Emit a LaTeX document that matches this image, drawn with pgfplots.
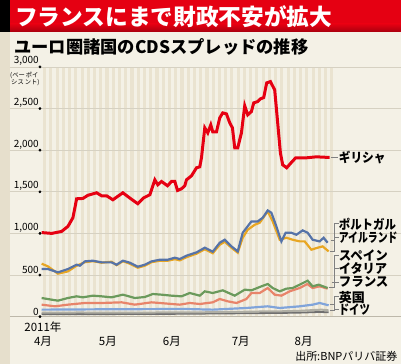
\documentclass[border=0pt]{standalone}
\usepackage{pgfplots}
\pgfplotsset{compat=1.18}
\usepackage{fontspec}
\usepackage{graphicx}
\setmainfont{Noto Sans CJK JP}
\newfontfamily\heavy{Noto Sans CJK JP Black}
\definecolor{bg}{HTML}{F4F1E6}
\definecolor{leftstrip}{HTML}{E6DFCC}
\definecolor{stripe}{HTML}{EAE3D0}
\definecolor{bannerred}{HTML}{E50012}
\definecolor{bannerdark}{HTML}{A8000E}
\definecolor{gridc}{HTML}{D6D1C2}
\definecolor{zeroc}{HTML}{BDB8AA}
\definecolor{greece}{HTML}{E60012}
\definecolor{portugal}{HTML}{5673A8}
\definecolor{ireland}{HTML}{E8A623}
\definecolor{spain}{HTML}{6B9A5C}
\definecolor{italy}{HTML}{E8846A}
\definecolor{france}{HTML}{80A4DA}
\definecolor{uk}{HTML}{AFAEA4}
\definecolor{germany}{HTML}{707070}
\definecolor{leader}{HTML}{808080}
\newcommand\rl[2]{\scalebox{#1}[1]{#2}}
\begin{document}
\begin{tikzpicture}
\begin{axis}[
  set layers,
  at={(40pt,47pt)}, anchor=south west,
  width=293pt, height=250pt, scale only axis,
  xmin=40, xmax=333, ymin=0, ymax=3000,
  clip=false,
  axis line style={draw=none},
  major tick length=0pt,
  ytick={0,500,1000,1500,2000,2500,3000},
  yticklabel style={anchor=south east, font=\fontsize{10}{10}\selectfont, inner sep=1pt},
  /pgf/number format/.cd, 1000 sep={,}, assume math mode=true,
  /pgfplots/.cd,
  xtick={43,108,172,241,304},
  xticklabels={{2011年\\4月},{\phantom{年}\\5月},{\phantom{年}\\6月},{\phantom{年}\\7月},{\phantom{年}\\8月}},
  xticklabel style={align=center, anchor=north, font=\fontsize{11.5}{13.5}\selectfont, inner sep=0pt, yshift=-5pt},
]
\begin{pgfonlayer}{axis background}
\fill[bg] (axis cs:0,-564) rectangle (axis cs:401,3804);
\fill[leftstrip] (axis cs:0,-564) rectangle (axis cs:10,3420);
\fill[bannerred] (axis cs:10,3420) rectangle (axis cs:401,3804);
\shade[top color=bannerred, bottom color=bannerdark] (axis cs:10,3420) rectangle (axis cs:401,3516);
\fill[black] (axis cs:0,3420) rectangle (axis cs:10,3804);
\pgfplotsinvokeforeach{0,...,46}{
  \fill[stripe] (axis cs:{40+#1*6.25+3.1},0) rectangle (axis cs:{40+#1*6.25+6.25},3000);
}
\pgfplotsinvokeforeach{500,1000,1500,2000,2500,3000}{
  \draw[gridc, line width=0.8pt] (axis cs:10,#1) -- (axis cs:401,#1);
}
\draw[zeroc, line width=0.9pt] (axis cs:10,0) -- (axis cs:401,0);
\end{pgfonlayer}
% titles
\node[anchor=west, text=white, font=\fontsize{22.7}{24}\selectfont\heavy, inner sep=0] at (axis cs:15,3606) {フランスにまで財政不安が拡大};
\node[anchor=west, font=\fontsize{17.3}{18}\selectfont\bfseries, inner sep=0] at (axis cs:14,3246) {ユーロ圏諸国のCDSスプレッドの推移};
% unit
\node[anchor=north west, font=\fontsize{6.3}{6.8}\selectfont, align=left, inner sep=0] at (axis cs:10,2940) {(ベー\,ポイ\\\,シス\,ント)};
% Germany
\addplot[germany, line width=1.8pt] coordinates {(41.7,30) (100,30) (160,32) (200,36) (240,40) (280,44) (300,48) (320,56) (329,52)};
% UK
\addplot[uk, line width=2pt] coordinates {(41.7,48) (80,50) (120,48) (160,50) (200,52) (240,58) (260,62) (280,64) (300,70) (315,80) (322,84) (329,76)};
% France
\addplot[france, line width=2.2pt] coordinates {(41.7,84) (100,88) (185,92) (213,84) (246.7,104) (268,124) (280,104) (300,124) (313,144) (320,164) (329,136)};
% Italy
\addplot[italy, line width=2.2pt] coordinates {(41.7,144) (55,124) (68,144) (85,164) (101.7,164) (121.7,172) (135,144) (151.7,172) (168,156) (180,144) (190,164) (200,152) (213,172) (220,212) (228,184) (236.7,164) (246.7,212) (251.7,284) (260,284) (268,344) (275,264) (281.7,252) (290,304) (300,344) (307.7,392) (313,344) (320,364) (328,336)};
% Spain
\addplot[spain, line width=2.2pt] coordinates {(41.7,224) (51.7,204) (58,192) (68,224) (76.7,244) (83,232) (93,252) (101.7,244) (111.7,232) (123,264) (135,224) (145,236) (153,272) (161.7,264) (171.7,252) (181.7,244) (190,284) (200,252) (205,304) (213,284) (223,316) (235,252) (245,324) (251.7,316) (261.7,364) (268,392) (273,344) (280,304) (286.7,336) (293,344) (300,384) (308,432) (313,364) (319,384) (328,344)};
% Ireland
\addplot[ireland, line width=2.2pt] coordinates {(41.7,636) (48,604) (58,516) (68,544) (76.7,612) (85,654) (93,666) (101.7,648) (111.7,660) (116.7,618) (123,666) (130,636) (138,588) (145,612) (151.7,654) (160,672) (168,672) (175,690) (180,676) (186.7,714) (196.7,756) (205,810) (213,762) (220,864) (225,900) (231.7,828) (238,768) (243,948) (248,1044) (255,1104) (260,1128) (268,1264) (273,1144) (280,924) (286.7,948) (293,924) (300,904) (305,904) (311.7,804) (318,828) (323,844) (329,784)};
% Portugal
\addplot[portugal, line width=2.2pt] coordinates {(41.7,572) (48,572) (58,532) (68,572) (76.7,624) (80,612) (85,664) (93,672) (101.7,652) (111.7,652) (116.7,624) (123,672) (130,648) (138,600) (145,624) (151.7,664) (160,684) (168,684) (175,708) (180,692) (186.7,732) (196.7,772) (205,828) (213,780) (220,888) (225,924) (231.7,844) (238,784) (243,1008) (251.7,1144) (258,1144) (263,1188) (268,1276) (271.7,1248) (276.7,1084) (281.7,904) (286,1008) (291.7,1008) (296.7,984) (303,1036) (308,1008) (313,924) (320,904) (324,948) (328,888)};
% Greece
\addplot[greece, line width=3pt] coordinates {(41.7,1010) (51.7,1000) (61.7,1024) (68,1084) (73,1188) (75,1308) (76.7,1416) (83,1420) (88,1458) (96.7,1488) (101.7,1452) (106.7,1452) (113,1404) (123,1488) (131,1416) (138,1356) (144,1428) (150,1464) (155,1644) (158,1584) (161.7,1624) (167.7,1572) (171.7,1624) (175,1624) (177.7,1516) (181.7,1536) (185,1572) (186.7,1644) (191.7,1692) (196.7,1788) (200,1800) (201.7,1908) (205,2268) (208,2208) (211,2304) (213,2220) (216.7,2220) (220,2388) (223,2448) (226.7,2436) (230,2328) (232.7,2268) (235,2028) (238,2028) (241.7,2208) (245,2532) (248,2424) (251.7,2464) (254,2568) (258,2584) (260.7,2616) (264,2632) (267,2808) (270.7,2824) (275,2724) (278,2328) (280.7,1968) (283,1824) (287,1788) (291.7,1852) (296,1908) (306.7,1908) (316.7,1920) (330,1912)};
% tick dots
\addplot[only marks, mark=*, mark size=1.2pt, black] coordinates {(40,0) (40,500) (40,1000) (40,1500) (40,2000) (40,2500) (40,3000)};
% leaders
\draw[leader, line width=0.8pt] (axis cs:331,1912) -- (axis cs:338,1912);
\draw[leader, line width=0.8pt] (axis cs:331,912) -- (axis cs:335,912) -- (axis cs:335,1116) -- (axis cs:339,1116);
\draw[leader, line width=0.8pt] (axis cs:335,948) -- (axis cs:339,948);
\draw[leader, line width=0.8pt] (axis cs:330,780) -- (axis cs:335,780) -- (axis cs:335,912);
\draw[leader, line width=0.8pt] (axis cs:329,348) -- (axis cs:335,348) -- (axis cs:335,732) -- (axis cs:339,732);
\draw[leader, line width=0.8pt] (axis cs:335,576) -- (axis cs:339,576);
\draw[leader, line width=0.8pt] (axis cs:332,414) -- (axis cs:339,414);
\draw[leader, line width=0.8pt] (axis cs:330,144) -- (axis cs:335,144) -- (axis cs:335,240) -- (axis cs:339,240);
\draw[leader, line width=0.8pt] (axis cs:330,72) -- (axis cs:335,72) -- (axis cs:335,144);
\draw[leader, line width=0.8pt] (axis cs:335,84) -- (axis cs:339,84);
% right labels
\node[anchor=west, inner sep=0, font=\fontsize{13}{13}\selectfont\heavy] at (axis cs:339,1912) {\rl{0.9}{ギリシャ}};
\node[anchor=west, inner sep=0, font=\fontsize{13}{13}\selectfont\heavy] at (axis cs:339,1104) {\rl{0.88}{ポルトガル}};
\node[anchor=west, inner sep=0, font=\fontsize{13}{13}\selectfont\heavy] at (axis cs:339,948) {\rl{0.76}{アイルランド}};
\node[anchor=west, inner sep=0, font=\fontsize{13}{13}\selectfont\heavy] at (axis cs:339,732) {\rl{0.96}{スペイン}};
\node[anchor=west, inner sep=0, font=\fontsize{13}{13}\selectfont\heavy] at (axis cs:339,576) {\rl{0.94}{イタリア}};
\node[anchor=west, inner sep=0, font=\fontsize{13}{13}\selectfont\heavy] at (axis cs:339,414) {\rl{0.96}{フランス}};
\node[anchor=west, inner sep=0, font=\fontsize{13}{13}\selectfont\heavy] at (axis cs:339,234) {\rl{1.0}{英国}};
\node[anchor=west, inner sep=0, font=\fontsize{13}{13}\selectfont\heavy] at (axis cs:339,84) {\rl{0.8}{ドイツ}};
% source
\node[anchor=east, font=\fontsize{11}{12}\selectfont, inner sep=0] at (axis cs:398,-480) {出所:BNPパリバ証券};
\end{axis}
\end{tikzpicture}
\end{document}
